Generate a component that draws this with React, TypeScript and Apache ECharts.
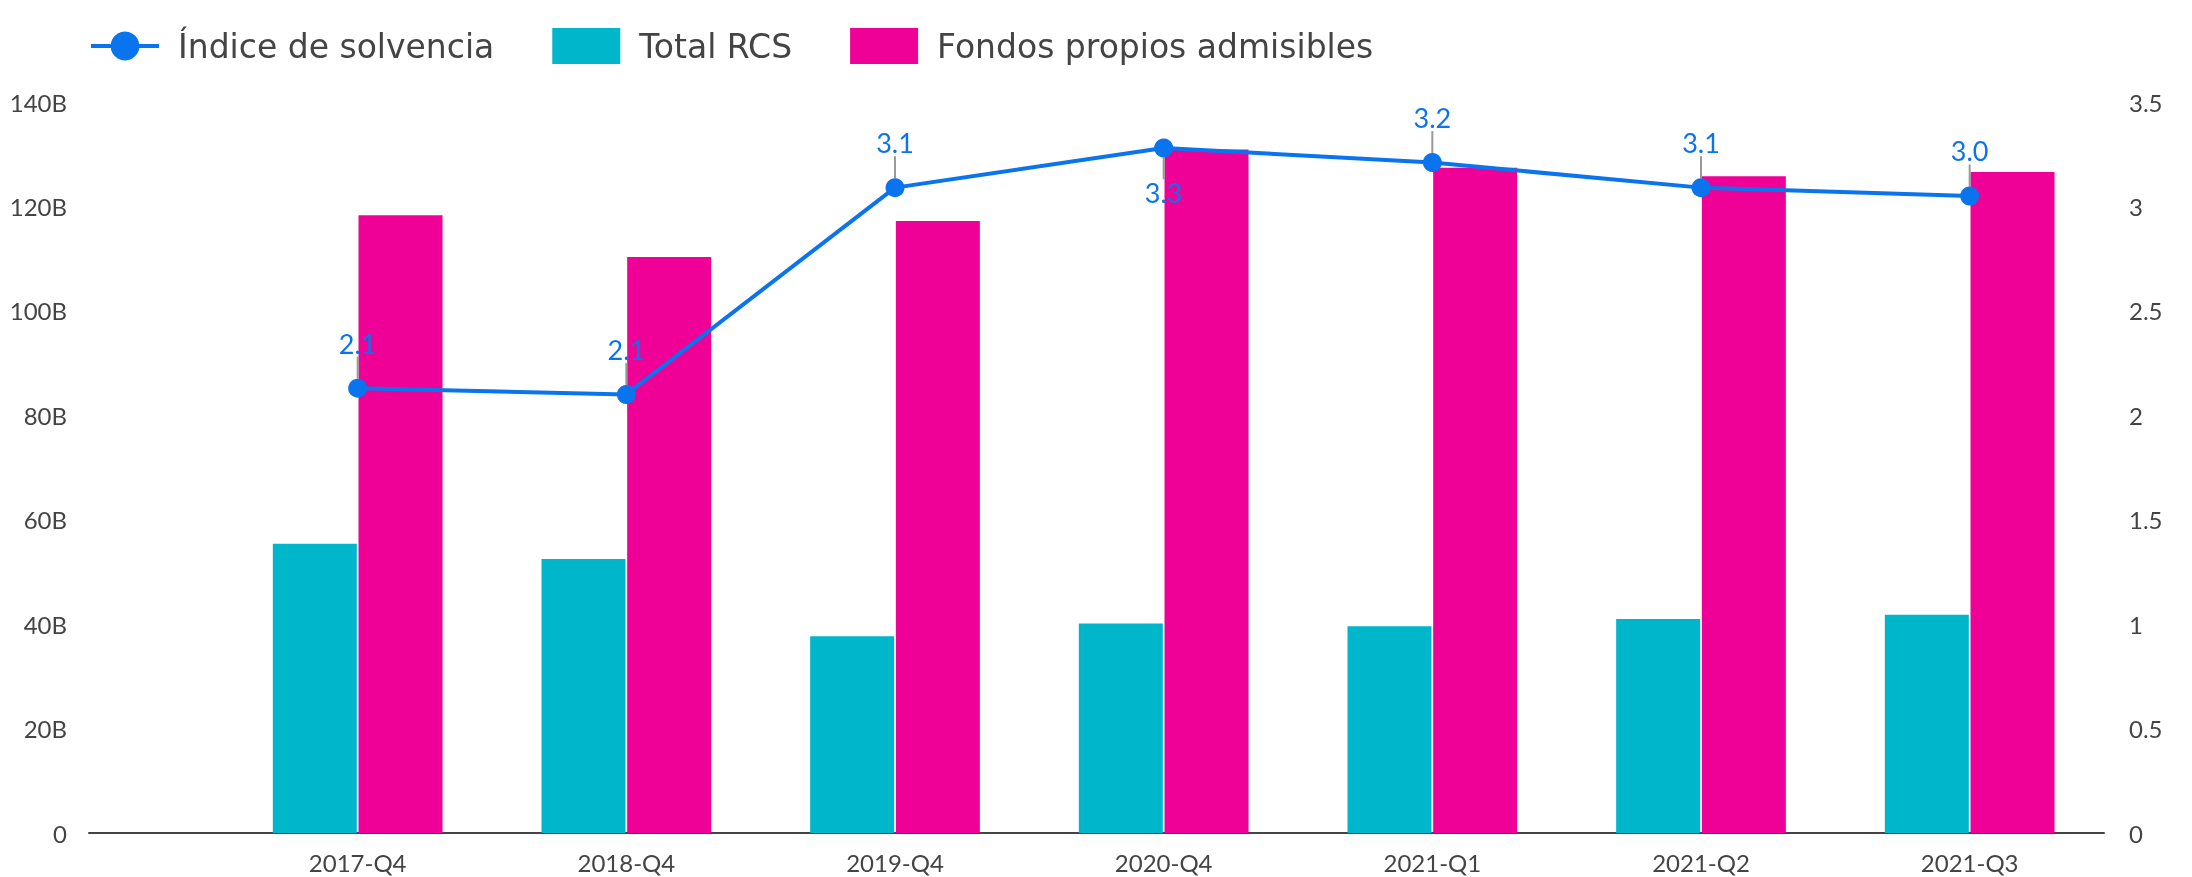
import React, { useEffect, useRef } from "react";
import * as echarts from "echarts";

const categories = ["2017-Q4", "2018-Q4", "2019-Q4", "2020-Q4", "2021-Q1", "2021-Q2", "2021-Q3"];
const totalRCS = [55.4, 52.5, 37.7, 40.1, 39.6, 41.0, 41.8]; // billions
const fondosPropios = [118.3, 110.3, 117.2, 130.9, 127.4, 125.8, 126.6]; // billions
const indiceSolvencia = [2.13, 2.1, 3.09, 3.28, 3.21, 3.09, 3.05];
const leftTicks = { min: 0, max: 140, interval: 20 };
const rightTicks = { min: 0, max: 3.5, interval: 0.5 };

const FONT = "Lato, 'Noto Sans', sans-serif";
const LEGEND_FONT = "'DejaVu Sans', Lato, sans-serif";
const BLUE = "#0a74ee";
const TEAL = "#00b6cb";
const PINK = "#ef0096";

export default function App() {
  const ref = useRef<HTMLDivElement>(null);
  useEffect(() => {
    if (!ref.current) return;
    const chart = echarts.init(ref.current, undefined, { renderer: "svg" });
    const idx = categories.map((_, i) => i);
    chart.setOption({
      animation: false,
      textStyle: { fontFamily: FONT },
      legend: {
        left: 89,
        top: 28,
        padding: 0,
        itemWidth: 68,
        itemHeight: 36,
        itemGap: 58,
        textStyle: { fontSize: 33, color: "#444", fontFamily: LEGEND_FONT, fontWeight: "normal", padding: [0, 0, 0, 14] },
        data: [
          { name: "Índice de solvencia", lineStyle: { width: 4 } },
          { name: "Total RCS", icon: "rect" },
          { name: "Fondos propios admisibles", icon: "rect" },
        ],
      },
      grid: { left: 89, right: 88, top: 102, bottom: 44 },
      xAxis: {
        type: "value",
        min: -1,
        max: 6.5,
        interval: 1,
        splitLine: { show: false },
        axisTick: { show: false },
        axisLine: { show: true, onZero: false, lineStyle: { color: "#444", width: 2 } },
        axisLabel: {
          fontSize: 24,
          color: "#444",
          fontFamily: FONT,
          margin: 17,
          formatter: (v: number) => (Number.isInteger(v) && v >= 0 && v < categories.length ? categories[v] : ""),
        },
      },
      yAxis: [
        {
          type: "value",
          min: leftTicks.min,
          max: leftTicks.max,
          interval: leftTicks.interval,
          splitLine: { show: false },
          axisLine: { show: false },
          axisTick: { show: false },
          axisLabel: {
            fontSize: 24,
            color: "#444",
            fontFamily: FONT,
            margin: 22,
            formatter: (v: number) => (v === 0 ? "0" : v + "B"),
          },
        },
        {
          type: "value",
          min: rightTicks.min,
          max: rightTicks.max,
          interval: rightTicks.interval,
          splitLine: { show: false },
          axisLine: { show: false },
          axisTick: { show: false },
          axisLabel: { fontSize: 24, color: "#444", fontFamily: FONT, margin: 25 },
        },
      ],
      series: [
        {
          name: "Índice de solvencia",
          type: "line",
          yAxisIndex: 1,
          z: 5,
          data: idx.map((i) =>
            i === 3
              ? { value: [i, indiceSolvencia[i]], label: { position: "bottom" } }
              : [i, indiceSolvencia[i]]
          ),
          symbol: "circle",
          symbolSize: 19,
          itemStyle: { color: BLUE },
          lineStyle: { color: BLUE, width: 4 },
          label: {
            show: true,
            position: "top",
            distance: 6,
            fontSize: 27,
            color: BLUE,
            fontFamily: FONT,
            formatter: (p: any) => p.value[1].toFixed(1),
          },
          labelLayout: (p: any) => ({ dy: p.dataIndex === 3 ? 16 : -16 }),
          labelLine: { show: true, lineStyle: { color: "#999", width: 2 } },
        },
        {
          name: "Total RCS",
          type: "bar",
          yAxisIndex: 0,
          barWidth: 84,
          barGap: "2%",
          itemStyle: { color: TEAL },
          data: idx.map((i) => [i, totalRCS[i]]),
        },
        {
          name: "Fondos propios admisibles",
          type: "bar",
          yAxisIndex: 0,
          barWidth: 84,
          barGap: "2%",
          itemStyle: { color: PINK },
          data: idx.map((i) => [i, fondosPropios[i]]),
        },
      ],
    });
    return () => chart.dispose();
  }, []);
  return <div ref={ref} style={{ position: "fixed", left: 0, top: 0, width: 2192, height: 877 }} />;
}
